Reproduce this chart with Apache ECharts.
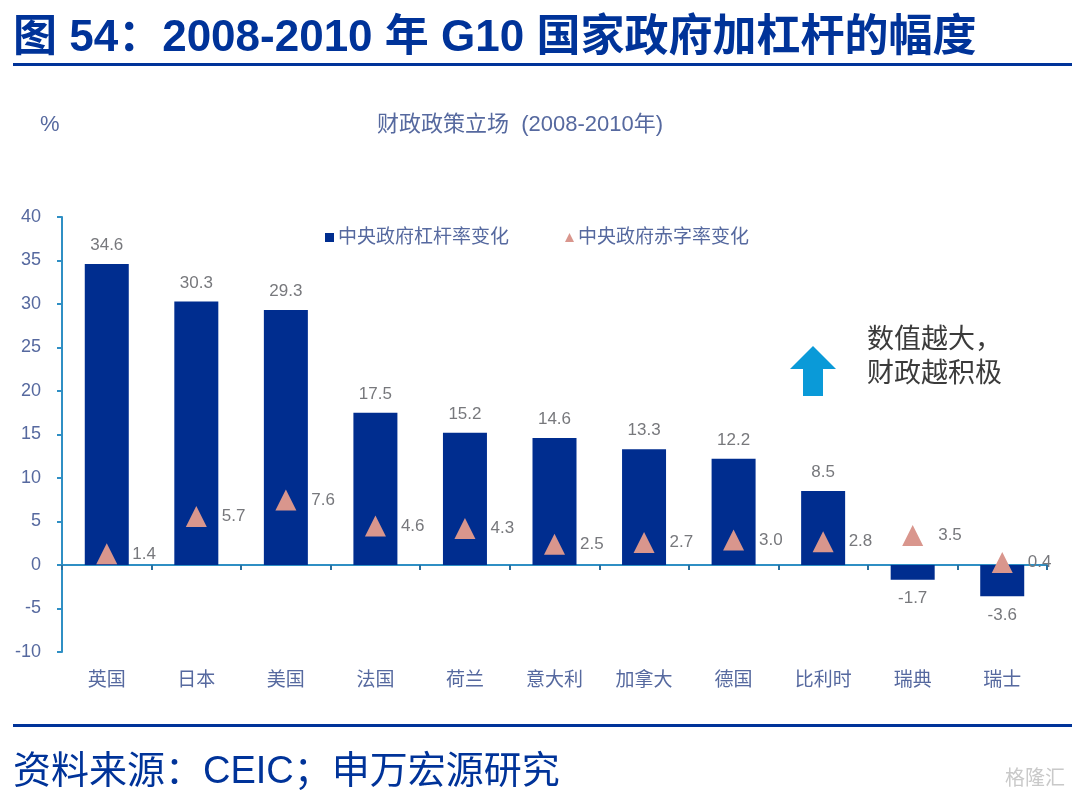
<!DOCTYPE html>
<html>
<head>
<meta charset="UTF-8">
<title>G10 fiscal</title>
<script src="https://cdn.jsdelivr.net/npm/echarts@6/dist/echarts.min.js"></script>
<style>
html, body { margin: 0; padding: 0; background: #fff; }
#container { width: 1080px; height: 798px; }
</style>
</head>
<body>
<div id="container"></div>
<script>
// 数据
var countries = ['英国', '日本', '美国', '法国', '荷兰', '意大利', '加拿大', '德国', '比利时', '瑞典', '瑞士'];
var leverage = [34.6, 30.3, 29.3, 17.5, 15.2, 14.6, 13.3, 12.2, 8.5, -1.7, -3.6];
var deficit = [1.4, 5.7, 7.6, 4.6, 4.3, 2.5, 2.7, 3.0, 2.8, 3.5, 0.4];

var fontCn = '"Liberation Sans", "Noto Sans CJK SC", sans-serif';
var navy = '#002d8f';
var axisBlue = '#2f8fc4';
var textBlue = '#56699f';
var labelGrey = '#77787c';

var mychart = echarts.init(document.getElementById('container'));

var option = {
    backgroundColor: '#fff',
    animation: false,
    textStyle: { fontFamily: fontCn },
    title: [
        { text: '图 54：2008-2010 年 G10 国家政府加杠杆的幅度', left: 13, top: 17, padding: 0,
          textStyle: { fontSize: 44, fontWeight: 'bold', color: '#003399', fontFamily: fontCn } },
        { text: '资料来源：CEIC；申万宏源研究', left: 13, top: 754, padding: 0,
          textStyle: { fontSize: 38, fontWeight: 'normal', color: '#003399', fontFamily: fontCn } },
        { text: '财政政策立场  (2008-2010年)', left: 377, top: 114, padding: 0,
          textStyle: { fontSize: 22, fontWeight: 'normal', color: textBlue, fontFamily: fontCn } },
        { text: '%', left: 40, top: 114, padding: 0,
          textStyle: { fontSize: 22, fontWeight: 'normal', color: textBlue, fontFamily: fontCn } },
        { text: '数值越大，\n财政越积极', left: 867, top: 324, padding: 0,
          textStyle: { fontSize: 27, fontWeight: 'normal', color: '#3b3b3b', lineHeight: 34, fontFamily: fontCn } },
        { text: '格隆汇', left: 1005, top: 769, padding: 0,
          textStyle: { fontSize: 20, fontWeight: 'normal', color: '#c9c9c9', fontFamily: fontCn } }
    ],
    legend: {
        left: 320, top: 223, itemGap: 56, itemWidth: 9, itemHeight: 9,
        textStyle: { fontSize: 19, color: textBlue, padding: [0, 0, 0, -1] },
        data: [
            { name: '中央政府杠杆率变化', icon: 'rect' },
            { name: '中央政府赤字率变化', icon: 'triangle' }
        ]
    },
    grid: { left: 62, right: 33, top: 217, height: 435 },
    xAxis: {
        type: 'category',
        data: countries,
        axisLine: { onZero: true, lineStyle: { color: axisBlue, width: 2 } },
        axisTick: { show: true, length: 5, lineStyle: { color: '#2a6f9e', width: 2 } },
        axisLabel: { margin: 19, fontSize: 19, color: textBlue }
    },
    yAxis: {
        type: 'value',
        min: -10, max: 40, interval: 5,
        splitLine: { show: false },
        axisLine: { show: true, lineStyle: { color: axisBlue, width: 2 } },
        axisTick: { show: true, length: 5, lineStyle: { color: axisBlue, width: 2 } },
        axisLabel: { fontSize: 18, color: textBlue, margin: 21, padding: [3, 0, 0, 0] }
    },
    series: [
        {
            name: '中央政府杠杆率变化',
            type: 'bar',
            barWidth: 44,
            itemStyle: { color: navy },
            label: { show: true, fontSize: 17, color: labelGrey, distance: 10, formatter: function (p) { return p.value.toFixed(1); } },
            data: leverage.map(function (v) {
                return { value: v, label: { position: v < 0 ? 'bottom' : 'top' } };
            })
        },
        {
            name: '中央政府赤字率变化',
            type: 'scatter',
            symbol: 'triangle',
            symbolSize: 21,
            symbolOffset: [0, 1],
            itemStyle: { color: '#d9968d', opacity: 1 },
            label: { show: true, position: 'right', distance: 15, fontSize: 17, color: labelGrey, formatter: function (p) { return p.value.toFixed(1); } },
            data: deficit,
            z: 5
        }
    ],
    graphic: [
        { type: 'rect', shape: { x: 13, y: 63, width: 1059, height: 3 }, style: { fill: '#003399' } },
        { type: 'rect', shape: { x: 13, y: 724, width: 1059, height: 3 }, style: { fill: '#003399' } },
        { type: 'polygon', shape: { points: [[813, 346], [836, 369], [823, 369], [823, 396], [803, 396], [803, 369], [790, 369]] }, style: { fill: '#0a9ad8' } }
    ]
};

mychart.setOption(option);
</script>
</body>
</html>
